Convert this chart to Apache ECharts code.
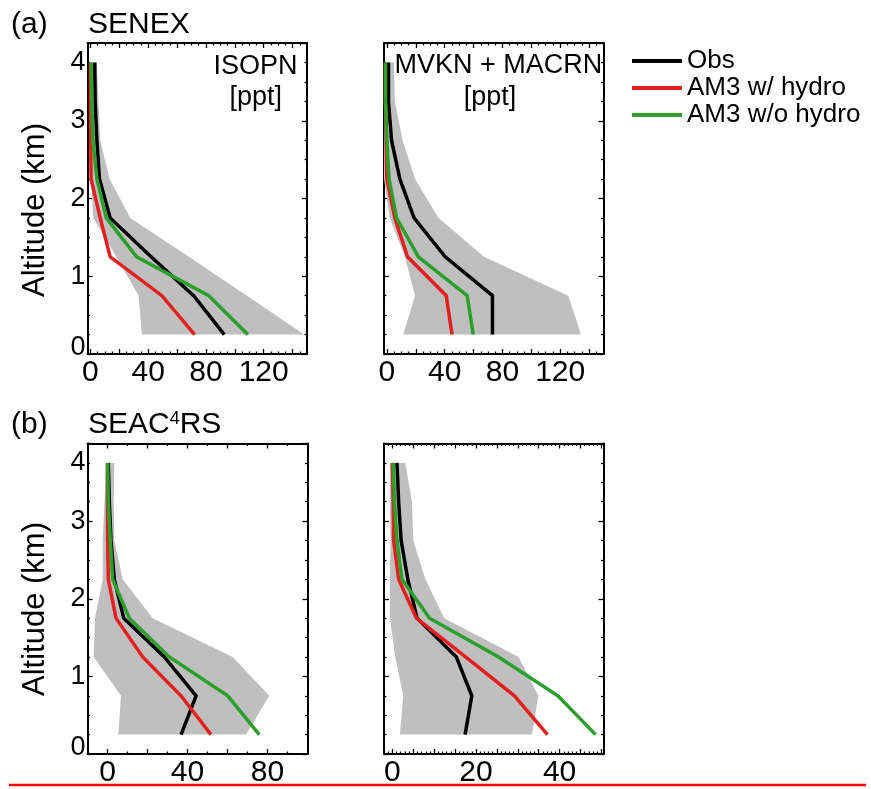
<!DOCTYPE html>
<html><head><meta charset="utf-8">
<script src="https://cdn.jsdelivr.net/npm/echarts@6/dist/echarts.min.js"></script>
<style>html,body{margin:0;padding:0;background:#fff}#c{width:871px;height:789px}</style>
</head><body><div id="c"></div>
<script>
// ---------------- data ----------------
const altitude = [0.25, 0.75, 1.25, 1.75, 2.25, 2.75, 3.25, 3.75];
const seriesNames = ['Obs', 'AM3 w/ hydro', 'AM3 w/o hydro'];

// (a) SENEX, ISOPN [ppt]
const senexIsopnObs   = [92.7, 71.5, 42.0, 13.7, 6.3, 4.5, 3.3, 3.0];
const senexIsopnHydro = [72.2, 49.5, 13.7, 6.8, 0.5, 0.2, 0.0, 0.0];
const senexIsopnNoHyd = [109, 82, 32, 11, 4.5, 1.8, 1.0, 0.5];
const senexIsopnLo    = [35.7, 33.4, 18.0, 2.0, 0.5, 0.0, 0.0, -1.0];
const senexIsopnHi    = [148, 108.4, 68.2, 27.6, 13.3, 6.8, 5.6, 4.5];

// (a) SENEX, MVKN + MACRN [ppt]
const senexMvknObs   = [73.1, 73.1, 40.4, 18.8, 9.0, 3.2, 1.1, 1.1];
const senexMvknHydro = [45.1, 41.1, 14.3, 5.5, 0.0, -0.5, -1.0, -1.0];
const senexMvknNoHyd = [59.8, 55.6, 21.8, 6.7, 1.5, 0.0, -1.0, -1.0];
const senexMvknLo    = [11.3, 19.5, 12.5, 2.0, -2.0, -2.0, -2.0, -2.0];
const senexMvknHi    = [134.4, 125.6, 67.2, 35.8, 19.5, 10.9, 5.5, 4.8];

// (b) SEAC4RS, ISOPN
const seacIsopnObs   = [36.8, 44.3, 28.4, 8.1, 3.4, 1.75, 0.9, 0.4];
const seacIsopnHydro = [51.75, 36.75, 17.6, 4.25, 0.4, 0.1, 0.0, 0.0];
const seacIsopnNoHyd = [75.9, 60.1, 30.9, 10.9, 2.6, 1.4, 0.4, 0.0];
const seacIsopnLo    = [5.4, 6.75, -6.9, -6.25, -2.4, -2.4, -1.5, -0.75];
const seacIsopnHi    = [69.25, 80.9, 62.6, 22.6, 7.6, 3.4, 3.1, 3.4];

// (b) SEAC4RS, MVKN + MACRN
const seacMvknObs   = [17.4, 19.0, 15.3, 5.9, 3.7, 2.1, 1.5, 1.1];
const seacMvknHydro = [37.1, 29.2, 17.5, 5.75, 1.5, 0.3, 0.2, 0.0];
const seacMvknNoHyd = [48.6, 39.6, 25.4, 8.9, 2.3, 1.1, 0.5, 0.2];
const seacMvknLo    = [1.8, 2.6, 0.7, -0.6, -0.6, -0.45, -0.6, -0.6];
const seacMvknHi    = [33.4, 34.9, 30.2, 12.4, 7.9, 5.0, 4.7, 3.1];

// axis ranges and tick labels
const xRangeA = [-2, 150];
const xRangeB = [-10, 100];
const xRangeC = [-2, 50.5];
const xLabelsA = [0, 40, 80, 120];
const xLabelsB = [0, 40, 80];
const xLabelsC = [0, 20, 40];
const yLabels = [0, 1, 2, 3, 4];

// ---------------- layout ----------------
const FONT = '"Liberation Sans", Arial, Helvetica, sans-serif';
const COLORS = ['#000000', '#e3201f', '#2b9f2b'];
const BAND = '#bfbfbf';

function ticks(min, max, step, skipStep) {
  const out = [];
  const start = Math.ceil(min / step) * step;
  for (let v = start; v <= max + 1e-9; v += step) {
    const r = Math.round(v * 1000) / 1000;
    if (r <= min || r >= max) continue;
    if (skipStep && Math.abs(r / skipStep - Math.round(r / skipStep)) < 1e-9) continue;
    out.push(r);
  }
  return out;
}

const panels = [
  { grid: {left: 87.5, top: 43, width: 219.5, height: 311}, range: xRangeA, labels: xLabelsA, major: 20, minor: 5, yLab: true,
    obs: senexIsopnObs, hyd: senexIsopnHydro, nohyd: senexIsopnNoHyd, lo: senexIsopnLo, hi: senexIsopnHi },
  { grid: {left: 384, top: 43, width: 219.5, height: 311}, range: xRangeA, labels: xLabelsA, major: 20, minor: 5, yLab: false,
    obs: senexMvknObs, hyd: senexMvknHydro, nohyd: senexMvknNoHyd, lo: senexMvknLo, hi: senexMvknHi },
  { grid: {left: 87.5, top: 443.5, width: 220, height: 310.5}, range: xRangeB, labels: xLabelsB, major: 20, minor: 10, yLab: true,
    obs: seacIsopnObs, hyd: seacIsopnHydro, nohyd: seacIsopnNoHyd, lo: seacIsopnLo, hi: seacIsopnHi },
  { grid: {left: 384, top: 443.5, width: 219.5, height: 310.5}, range: xRangeC, labels: xLabelsC, major: 5, minor: 1, yLab: false,
    obs: seacMvknObs, hyd: seacMvknHydro, nohyd: seacMvknNoHyd, lo: seacMvknLo, hi: seacMvknHi }
];

const grid = [], xAxis = [], yAxis = [], series = [];
const lineCol = {color: '#000', width: 2};
const tickCol = {color: '#000', width: 1.3};

panels.forEach((p, k) => {
  grid.push(Object.assign({}, p.grid));
  const majors = ticks(p.range[0] - 1e-6, p.range[1], p.major);
  const minors = ticks(p.range[0], p.range[1], p.minor, p.major);
  const base = {type: 'value', gridIndex: k, min: p.range[0], max: p.range[1], splitLine: {show: false}};
  xAxis.push(Object.assign({}, base, {
    position: 'bottom',
    axisLine: {show: true, onZero: false, lineStyle: lineCol},
    axisTick: {show: true, inside: true, length: 5, lineStyle: tickCol, customValues: majors},
    axisLabel: {show: true, margin: 4, fontSize: 30, fontFamily: FONT, color: '#000', customValues: p.labels}
  }));
  xAxis.push(Object.assign({}, base, {
    position: 'bottom',
    axisLine: {show: false, onZero: false},
    axisTick: {show: true, inside: true, length: 2.5, lineStyle: tickCol, customValues: minors},
    axisLabel: {show: false}
  }));
  xAxis.push(Object.assign({}, base, {
    position: 'top',
    axisLine: {show: true, onZero: false, lineStyle: lineCol},
    axisTick: {show: true, inside: true, length: 5, lineStyle: tickCol, customValues: majors},
    axisLabel: {show: false}
  }));
  xAxis.push(Object.assign({}, base, {
    position: 'top',
    axisLine: {show: false, onZero: false},
    axisTick: {show: true, inside: true, length: 2.5, lineStyle: tickCol, customValues: minors},
    axisLabel: {show: false}
  }));
  const ybase = {type: 'value', gridIndex: k, min: 0, max: 4, interval: 1, splitLine: {show: false},
    axisLine: {show: true, onZero: false, lineStyle: lineCol},
    axisTick: {show: true, inside: true, length: 5, lineStyle: tickCol},
    minorTick: {show: true, splitNumber: 4, length: 2.5, lineStyle: tickCol}};
  yAxis.push(Object.assign({}, ybase, {
    position: 'left',
    axisLabel: {show: p.yLab, margin: 2, color: '#000', fontFamily: FONT, fontSize: 27,
      customValues: yLabels,
      formatter: function (v) {
        if (v === 4) return '{t|4}';
        if (v === 0) return '{b|0}';
        return '{n|' + v + '}';
      },
      rich: {
        n: {fontSize: 27, fontFamily: FONT, color: '#000'},
        t: {fontSize: 27, fontFamily: FONT, color: '#000', padding: [39, 0, 0, 0]},
        b: {fontSize: 27, fontFamily: FONT, color: '#000', padding: [0, 0, 13, 0]}
      }}
  }));
  yAxis.push(Object.assign({}, ybase, {position: 'right', axisLabel: {show: false}}));

  const xi = 4 * k, yi = 2 * k;
  const lo = p.lo, hi = p.hi;
  series.push({
    type: 'custom', xAxisIndex: xi, yAxisIndex: yi, clip: true, silent: true, z: 1,
    encode: {x: [0, 1], y: 2},
    data: altitude.map((a, i) => [lo[i], hi[i], a]),
    renderItem: function (params, api) {
      if (params.dataIndex !== 0) return null;
      const pts = [];
      for (let i = 0; i < altitude.length; i++) pts.push(api.coord([hi[i], altitude[i]]));
      for (let i = altitude.length - 1; i >= 0; i--) pts.push(api.coord([lo[i], altitude[i]]));
      return {type: 'polygon', shape: {points: pts}, style: {fill: BAND}};
    }
  });
  [p.obs, p.hyd, p.nohyd].forEach((vals, s) => {
    series.push({
      type: 'line', name: seriesNames[s], xAxisIndex: xi, yAxisIndex: yi, z: 3 + s,
      symbol: 'none', silent: true, clip: true,
      lineStyle: {color: COLORS[s], width: 3.5, join: 'miter', cap: 'butt'},
      itemStyle: {color: COLORS[s]},
      data: vals.map((v, i) => [v, altitude[i]])
    });
  });
});

function txt(text, x, y, size, align, extra) {
  return Object.assign({type: 'text', x: x, y: y, silent: true,
    style: {text: text, fontSize: size, fontFamily: FONT, fill: '#000', align: align || 'left', verticalAlign: 'middle'}}, extra || {});
}

const graphic = [
  txt('(a)', 11, 25, 30),
  txt('SENEX', 88, 25, 30),
  txt('(b)', 11, 425, 30),
  {type: 'text', x: 88, y: 425, silent: true,
   style: {text: '{m|SEAC}{s|4}{m|RS}', align: 'left', verticalAlign: 'middle',
     rich: {m: {fontSize: 30, fontFamily: FONT, fill: '#000', color: '#000'},
            s: {fontSize: 18, fontFamily: FONT, fill: '#000', color: '#000', verticalAlign: 'top'}}}},
  txt('Altitude (km)', 35, 210, 31, 'center', {rotation: Math.PI / 2}),
  txt('Altitude (km)', 35, 609, 31, 'center', {rotation: Math.PI / 2}),
  txt('ISOPN', 255.5, 66.5, 27, 'center'),
  txt('[ppt]', 255.7, 98, 27, 'center'),
  txt('MVKN + MACRN', 498.4, 66, 27, 'center'),
  txt('[ppt]', 490, 98, 27, 'center'),
  {type: 'line', silent: true, shape: {x1: 9, y1: 785, x2: 866, y2: 785}, style: {stroke: '#ff0000', lineWidth: 2.5}}
];

const chart = echarts.init(document.getElementById('c'), null, {renderer: 'canvas'});
chart.setOption({
  animation: false,
  backgroundColor: '#ffffff',
  grid: grid,
  xAxis: xAxis,
  yAxis: yAxis,
  legend: {
    show: true, orient: 'vertical', left: 627, top: 43, itemWidth: 50, itemHeight: 4, itemGap: 1,
    icon: 'rect', selectedMode: false, data: seriesNames,
    textStyle: {fontSize: 26, fontFamily: FONT, color: '#000', lineHeight: 26}
  },
  series: series,
  graphic: graphic
});
</script>
</body></html>
